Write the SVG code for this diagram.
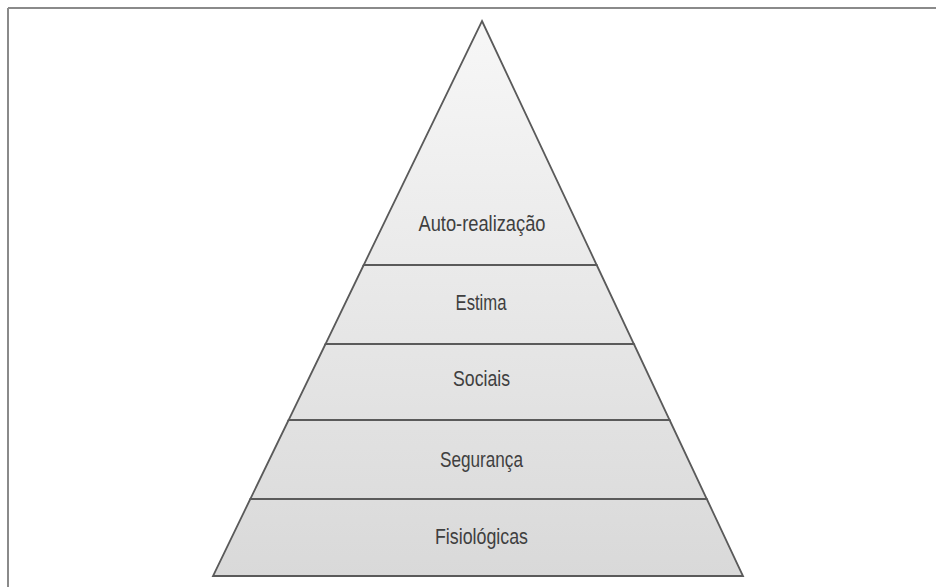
<svg xmlns="http://www.w3.org/2000/svg" width="936" height="587" viewBox="0 0 936 587">
<style>
.layer{stroke:#5a5a5a;stroke-width:1.8;fill:url(#g);stroke-linejoin:miter}
.lbl{font-family:"Liberation Sans",Arial,sans-serif;font-size:22px;fill:#3f3f3f;text-anchor:middle}
.frame{stroke:#8a8a8a;stroke-width:2;fill:none}
</style>
<defs>
<linearGradient id="g" gradientUnits="userSpaceOnUse" x1="0" y1="21" x2="0" y2="576">
<stop offset="0" stop-color="#f7f7f7"/>
<stop offset="1" stop-color="#d9d9d9"/>
</linearGradient>
</defs>
<rect width="936" height="587" fill="#ffffff"/>
<g id="frame">
<line class="frame" x1="8" y1="8" x2="936" y2="8"/>
<line class="frame" x1="8" y1="8" x2="8" y2="587"/>
</g>
<g id="auto-realizacao">
<polygon class="layer" points="482,21 596.7,265 363.7,265"/>
<text class="lbl" x="482" y="231" textLength="127" lengthAdjust="spacingAndGlyphs">Auto-realização</text>
</g>
<g id="estima">
<polygon class="layer" points="363.7,265 596.7,265 633.9,344 325.5,344"/>
<text class="lbl" x="481" y="310" textLength="51" lengthAdjust="spacingAndGlyphs">Estima</text>
</g>
<g id="sociais">
<polygon class="layer" points="325.5,344 633.9,344 669.6,420 288.6,420"/>
<text class="lbl" x="481.5" y="386" textLength="57" lengthAdjust="spacingAndGlyphs">Sociais</text>
</g>
<g id="seguranca">
<polygon class="layer" points="288.6,420 669.6,420 706.8,499 250.3,499"/>
<text class="lbl" x="481.5" y="467" textLength="83" lengthAdjust="spacingAndGlyphs">Segurança</text>
</g>
<g id="fisiologicas">
<polygon class="layer" points="250.3,499 706.8,499 743,576 213,576"/>
<text class="lbl" x="481.5" y="544" textLength="93" lengthAdjust="spacingAndGlyphs">Fisiológicas</text>
</g>
<g id="connectors"></g>
</svg>
